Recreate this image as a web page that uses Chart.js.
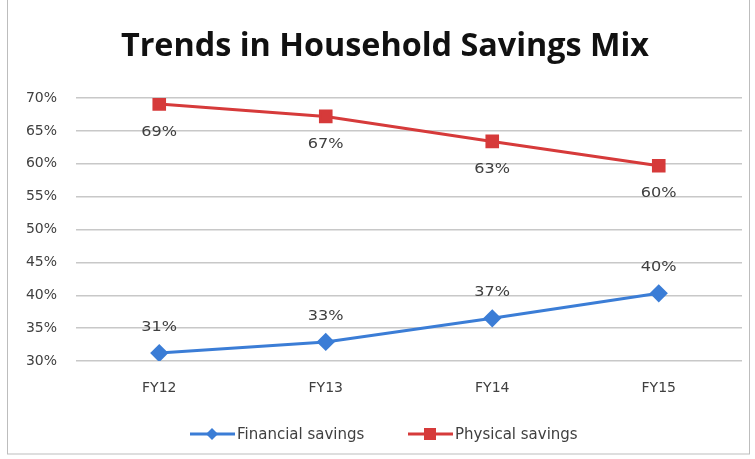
<!DOCTYPE html>
<html><head><meta charset="utf-8">
<script src="https://cdn.jsdelivr.net/npm/chart.js@4"></script>
<style>html,body{margin:0;padding:0;background:#fff}#w{width:755px;height:459px}</style>
</head><body><div id="w"><canvas id="c" width="755" height="459"></canvas></div>
<script>
const categories = ["FY12", "FY13", "FY14", "FY15"];
const financialSavings = [31.2, 32.9, 36.5, 40.3];
const physicalSavings = [69.1, 67.2, 63.4, 59.7];
const yTicks = [30, 35, 40, 45, 50, 55, 60, 65, 70];
const seriesNames = ["Financial savings", "Physical savings"];
const titleText = "Trends in Household Savings Mix";

const BLUE = "#3b7dd6", RED = "#d63a3a";
const FONT = "'DejaVu Sans', 'Open Sans', sans-serif";

const deco = {
  id: "deco",
  beforeDraw(chart) {
    const ctx = chart.ctx;
    ctx.save();
    ctx.fillStyle = "#fff";
    ctx.fillRect(0, 0, chart.width, chart.height);
    ctx.strokeStyle = "#bdbdbd";
    ctx.lineWidth = 1;
    ctx.strokeRect(7.5, -1, 742, 455);
    ctx.restore();
  },
  afterDraw(chart) {
    const ctx = chart.ctx;
    ctx.save();
    ctx.fillStyle = "#111";
    ctx.font = "bold 33px 'Open Sans', 'Liberation Sans', sans-serif";
    ctx.textAlign = "center";
    ctx.textBaseline = "middle";
    ctx.save();
    ctx.translate(385, 47);
    ctx.scale(0.98, 1);
    ctx.fillText(titleText, 0, 0);
    ctx.restore();
    // data labels
    ctx.font = "14px " + FONT;
    ctx.fillStyle = "#404040";
    chart.data.datasets.forEach((ds, i) => {
      const meta = chart.getDatasetMeta(i);
      meta.data.forEach((pt, j) => {
        const off = i === 0 ? -26 : 28;
        ctx.save();
        ctx.translate(pt.x, pt.y + off);
        ctx.scale(1.15, 1);
        ctx.fillText(Math.round(ds.data[j]) + "%", 0, 0);
        ctx.restore();
      });
    });
    // legend
    const items = [
      {name: seriesNames[0], color: BLUE, shape: "diamond", x: 190},
      {name: seriesNames[1], color: RED, shape: "square", x: 408}
    ];
    const ly = 434;
    ctx.textAlign = "left";
    ctx.font = "15px " + FONT;
    items.forEach(it => {
      ctx.strokeStyle = it.color;
      ctx.lineWidth = 3;
      ctx.beginPath(); ctx.moveTo(it.x, ly); ctx.lineTo(it.x + 45, ly); ctx.stroke();
      ctx.fillStyle = it.color;
      const cx = it.x + 22;
      if (it.shape === "diamond") {
        ctx.beginPath(); ctx.moveTo(cx, ly - 6); ctx.lineTo(cx + 6, ly); ctx.lineTo(cx, ly + 6); ctx.lineTo(cx - 6, ly); ctx.closePath(); ctx.fill();
      } else {
        ctx.fillRect(cx - 6, ly - 6, 12, 12);
      }
      ctx.fillStyle = "#404040";
      ctx.fillText(it.name, it.x + 47, ly + 1);
    });
    ctx.restore();
  }
};

new Chart(document.getElementById("c"), {
  type: "line",
  data: {
    labels: categories,
    datasets: [
      {label: seriesNames[0], data: financialSavings, borderColor: BLUE, backgroundColor: BLUE,
       borderWidth: 3, pointStyle: "rectRot", pointRadius: 7, pointHoverRadius: 7, tension: 0},
      {label: seriesNames[1], data: physicalSavings, borderColor: RED, backgroundColor: RED,
       borderWidth: 3, pointStyle: "rect", pointRadius: 7.5, pointHoverRadius: 7.5, tension: 0}
    ]
  },
  options: {
    responsive: false,
    animation: false,
    layout: {padding: {top: 98, left: 14, right: 13, bottom: 0}},
    plugins: {legend: {display: false}, title: {display: false}, tooltip: {enabled: false}},
    scales: {
      x: {
        offset: true,
        grid: {display: false, drawTicks: false},
        border: {display: false},
        ticks: {color: "#404040", font: {size: 14, family: FONT}, padding: 19},
        afterFit(s) { s.height = 98; }
      },
      y: {
        min: 30, max: 70,
        afterBuildTicks(s) { s.ticks = yTicks.map(v => ({value: v})); },
        grid: {color: "#c8c8c8", lineWidth: 1.5, drawTicks: false},
        border: {display: false},
        ticks: {color: "#404040", font: {size: 14, family: FONT}, padding: 19,
                callback: v => v + "%"},
        afterFit(s) { s.width = 62; }
      }
    }
  },
  plugins: [deco]
});
</script>
</body></html>
